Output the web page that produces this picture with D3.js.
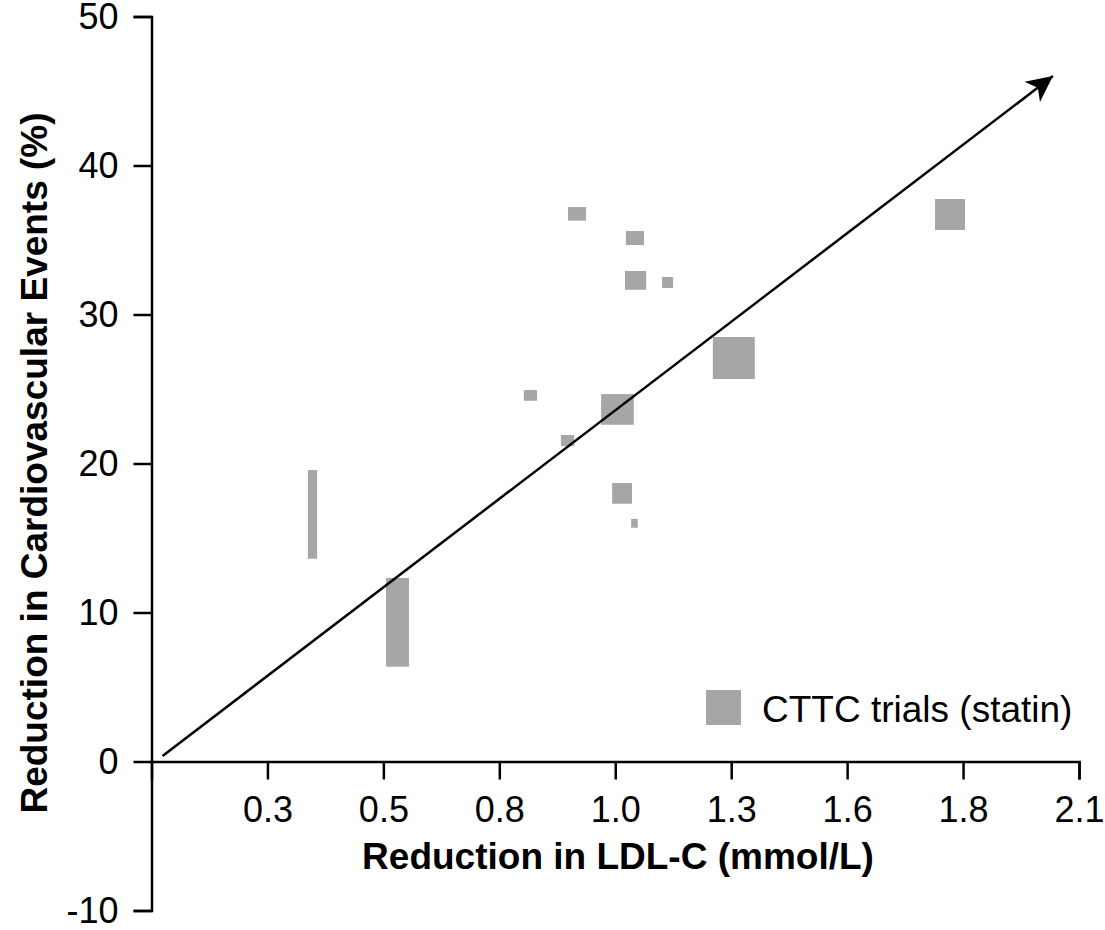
<!DOCTYPE html>
<meta charset="utf-8">
<style>
  body { margin: 0; background: #fff; }
  * { font-family: "Liberation Sans", Arial, sans-serif; }
  .axis path, .axis line { stroke: #000; stroke-width: 2.5px; }
  .axis text { font-size: 36px; fill: #000; }
</style>
<body>
<script src="https://cdnjs.cloudflare.com/ajax/libs/d3/7.8.5/d3.min.js"></script>
<script>

// CTTC statin trials: extent of each box (LDL-C reduction, event reduction)
var ldlFrom = [0.943, 1.074, 1.072, 1.156, 0.843, 1.018, 0.927, 1.043, 1.086, 0.354, 0.531, 1.271, 1.774];
var ldlTo   = [0.984, 1.115, 1.120, 1.181, 0.873, 1.092, 0.957, 1.088, 1.101, 0.375, 0.583, 1.366, 1.842];
var cveFrom = [36.30, 34.66, 31.66, 31.78, 24.21, 22.60, 21.17, 17.30, 15.69, 13.61, 6.36, 25.67, 35.67];
var cveTo   = [37.21, 35.60, 32.92, 32.52, 24.93, 24.66, 21.91, 18.69, 16.28, 19.56, 12.32, 28.49, 37.75];

// trend arrow
var trendX = [0.025, 2.041];
var trendY = [0.37, 46.0];

// axes
var xTicks = [0.2625, 0.525, 0.7875, 1.05, 1.3125, 1.575, 1.8375, 2.1];
var xTickLabels = ["0.3", "0.5", "0.8", "1.0", "1.3", "1.6", "1.8", "2.1"];
var yTicks = [-10, 0, 10, 20, 30, 40, 50];
var yTickLabels = ["-10", "0", "10", "20", "30", "40", "50"];

var legendLabel = "CTTC trials (statin)";

var svg = d3.select("body").append("svg")
    .attr("width", 1105)
    .attr("height", 930);

var x = d3.scaleLinear().domain([0, 2.1]).range([151.5, 1079]);
var y = d3.scaleLinear().domain([-10, 50]).range([910.5, 16.5]);

// boxes
var trials = ldlFrom.map(function(d, i) {
  return {x0: d, x1: ldlTo[i], y0: cveFrom[i], y1: cveTo[i]};
});

svg.append("g").selectAll("rect")
  .data(trials)
  .enter().append("rect")
    .attr("x", function(d) { return x(d.x0); })
    .attr("y", function(d) { return y(d.y1); })
    .attr("width", function(d) { return x(d.x1) - x(d.x0); })
    .attr("height", function(d) { return y(d.y0) - y(d.y1); })
    .attr("fill", "#a6a6a6");

// y axis
svg.append("g")
  .attr("class", "axis")
  .attr("transform", "translate(" + x(0) + ",0)")
  .call(d3.axisLeft(y).tickValues(yTicks).tickSize(18).tickPadding(15)
    .tickFormat(function(d, i) { return yTickLabels[i]; }));

// x axis at y = 0
svg.append("g")
  .attr("class", "axis")
  .attr("transform", "translate(0," + y(0) + ")")
  .call(d3.axisBottom(x).tickValues(xTicks).tickSize(18).tickPadding(17)
    .tickFormat(function(d, i) { return xTickLabels[i]; }));

// arrow
svg.append("defs").append("marker")
  .attr("id", "head")
  .attr("markerUnits", "userSpaceOnUse")
  .attr("viewBox", "-28 -14 30 28")
  .attr("refX", 0)
  .attr("refY", 0)
  .attr("markerWidth", 30)
  .attr("markerHeight", 28)
  .attr("orient", "auto")
  .append("path")
    .attr("d", "M0,0 L-26,-12.7 L-19,0 L-26,12.7 Z")
    .attr("fill", "#000");

svg.append("line")
  .attr("x1", x(trendX[0]))
  .attr("y1", y(trendY[0]))
  .attr("x2", x(trendX[1]))
  .attr("y2", y(trendY[1]))
  .attr("stroke", "#000")
  .attr("stroke-width", 2.5)
  .attr("marker-end", "url(#head)");

// axis titles
svg.append("text")
  .attr("x", 618)
  .attr("y", 869)
  .attr("text-anchor", "middle")
  .style("font-size", "37px")
  .style("font-weight", "bold")
  .text("Reduction in LDL-C (mmol/L)");

svg.append("text")
  .attr("transform", "translate(47,463) rotate(-90)")
  .attr("text-anchor", "middle")
  .style("font-size", "37px")
  .style("font-weight", "bold")
  .text("Reduction in Cardiovascular Events (%)");

// legend
svg.append("rect")
  .attr("x", 706)
  .attr("y", 690)
  .attr("width", 35)
  .attr("height", 35)
  .attr("fill", "#a6a6a6");

svg.append("text")
  .attr("x", 762)
  .attr("y", 722)
  .style("font-size", "37px")
  .text(legendLabel);

</script>
</body>
